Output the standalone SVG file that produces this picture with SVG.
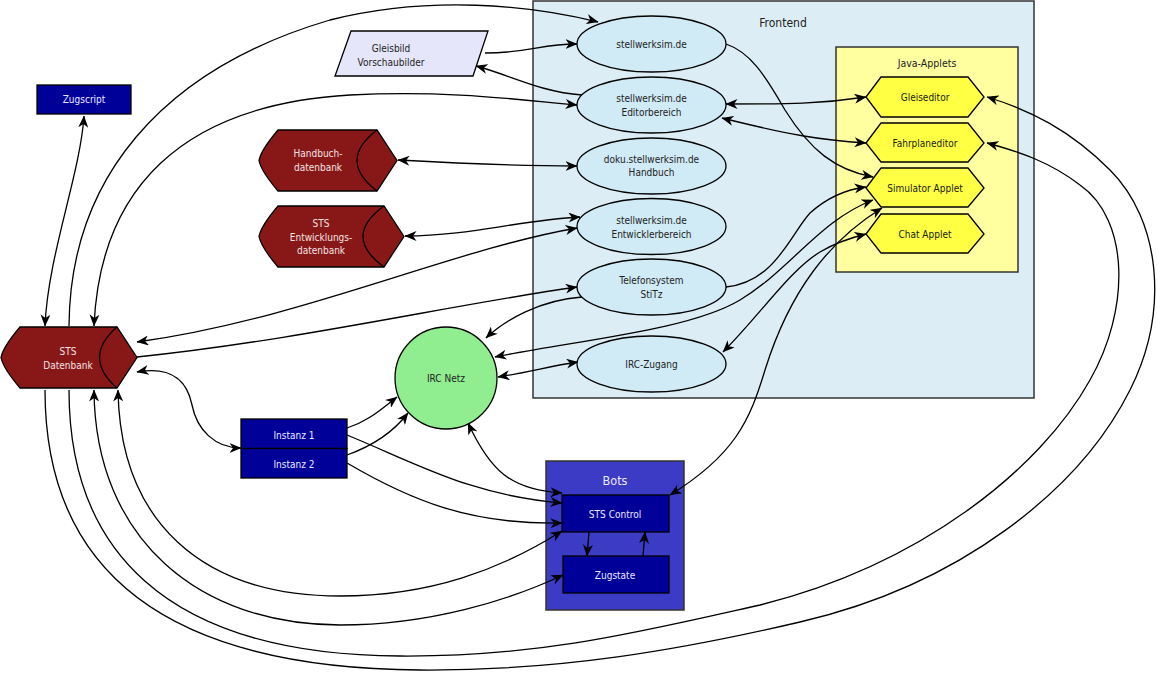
<svg xmlns="http://www.w3.org/2000/svg" width="1157" height="673" viewBox="0 0 1157 673">
<defs>
<marker id="ah" markerUnits="userSpaceOnUse" viewBox="0 0 12 10" refX="11.5" refY="5" markerWidth="12" markerHeight="10" orient="auto-start-reverse">
<path d="M0,0 L12,5 L0,10 L3.5,5 Z" fill="#000"/>
</marker>
</defs>
<style>
text{font-family:"DejaVu Sans Condensed","DejaVu Sans",sans-serif;font-size:10px;text-anchor:middle;fill:#222}
.lt{fill:#ece8ff}
.lr{fill:#f3e2e2}
.cl{stroke:#333;stroke-width:1.5}
.el{fill:#d0eaf6;stroke:#000;stroke-width:1.3}
.hx{fill:#ffff44;stroke:#000;stroke-width:1.3}
.db{fill:#881818;stroke:#000;stroke-width:1.3}
.bx{fill:#000099;stroke:#000;stroke-width:1.3}
#edges path{fill:none;stroke:#000;stroke-width:1.3}
.e{marker-end:url(#ah)}
.b{marker-start:url(#ah);marker-end:url(#ah)}
</style>

<g id="frontend">
<rect class="cl" x="533" y="1" width="501" height="397" fill="#dcedf5"/>
<text x="783" y="27" style="font-size:12px">Frontend</text>
</g>
<g id="java-applets">
<rect class="cl" x="836" y="47" width="182" height="225" fill="#ffffa0"/>
<text x="927" y="66.5" style="font-size:10.5px">Java-Applets</text>
</g>
<g id="bots">
<rect class="cl" x="546" y="461" width="138" height="149" fill="#3b3bc6"/>
<text class="lt" x="615" y="484.5" style="font-size:12.5px">Bots</text>
</g>

<g id="edges">
<path class="b" d="M84,116 C80,175 48,255 45,326"/>
<path class="e" d="M69,326 C70,180 160,70 330,20 C430,-5 530,5 598,22"/>
<path class="b" d="M94,326 C100,190 180,105 350,95 C450,90 520,100 577,105"/>
<path class="e" d="M485,53 C530,53 540,44 577,44"/>
<path class="e" d="M582,95 C540,92 510,75 476,66"/>
<path class="b" d="M398,160 C470,164 520,166 577,166"/>
<path class="b" d="M405,236 C470,236 520,220 580,217"/>
<path class="b" d="M137,342 C300,320 450,250 577,228"/>
<path class="e" d="M137,357 C300,340 450,305 577,287"/>
<path class="b" d="M137,372 C175,365 188,385 192,405 C197,430 215,448 241,448"/>
<path class="e" d="M726,44 C750,52 765,75 785,110 C810,150 835,170 873,177"/>
<path class="b" d="M726,104 C790,104 820,104 866,97"/>
<path class="b" d="M722,118 C790,135 820,140 866,143"/>
<path class="e" d="M726,287 C775,282 790,235 810,213 C830,195 850,189 866,187"/>
<path class="e" d="M582,297 C540,300 505,320 486,338"/>
<path class="b" d="M495,357 C580,340 690,330 740,300 C790,270 820,220 873,200"/>
<path class="b" d="M498,377 C530,372 550,366 578,362"/>
<path class="b" d="M723,352 C760,315 790,270 820,252 C835,243 850,238 866,234"/>
<path class="b" d="M670,495 C735,455 750,420 765,370 C790,290 830,240 882,208"/>
<path class="e" d="M347,428 C370,420 380,410 397,397"/>
<path class="e" d="M347,455 C375,445 395,430 408,413"/>
<path class="e" d="M347,435 C420,465 470,495 562,503"/>
<path class="e" d="M347,463 C410,500 470,525 562,523"/>
<path class="b" d="M468,423 C490,470 510,490 562,493"/>
<path class="e" d="M589,532 L587,556"/>
<path class="e" d="M643,556 L645,532"/>
<path class="b" d="M118,390 C120,520 200,596 340,596 C430,596 500,570 562,531"/>
<path class="b" d="M94,390 C95,540 200,625 340,625 C430,625 510,600 563,575"/>
<path class="e" d="M69,390 C69,545 160,655 400,656 C540,657 640,632 760,605 C920,565 1040,470 1090,380 C1130,310 1130,220 1080,185 C1050,162 1020,152 987,143"/>
<path class="e" d="M45,390 C45,560 150,668 420,670 C560,671 680,650 800,622 C960,585 1080,490 1130,390 C1170,310 1160,220 1110,170 C1070,130 1030,110 987,97"/>
</g>

<g id="zugscript">
<rect class="bx" x="37" y="85" width="94" height="29"/>
<text class="lt" x="84" y="102.5">Zugscript</text>
</g>
<g id="gleisbild">
<path d="M351,31 L488,31 L473,76 L335,76 Z" fill="#e6e6fa" stroke="#000" stroke-width="1.3"/>
<text x="391" y="51.5">Gleisbild</text>
<text x="391" y="65.5">Vorschaubilder</text>
</g>
<g id="handbuch-db">
<path class="db" d="M278,130 L377,130 L397,160.5 L377,191 L278,191 Q261,171 259,160.5 Q261,150 278,130 Z"/>
<path d="M377,130 Q337,160.5 377,191" fill="none" stroke="#000" stroke-width="1.3"/>
<text class="lr" x="318" y="157">Handbuch-</text>
<text class="lr" x="318" y="170.5">datenbank</text>
</g>
<g id="entw-db">
<path class="db" d="M278,206 L384,206 L404,236.5 L384,267 L278,267 Q261,247 259,236.5 Q261,226 278,206 Z"/>
<path d="M384,206 Q342,236.5 384,267" fill="none" stroke="#000" stroke-width="1.3"/>
<text class="lr" x="321" y="227">STS</text>
<text class="lr" x="321" y="240.5">Entwicklungs-</text>
<text class="lr" x="321" y="254">datenbank</text>
</g>
<g id="sts-db">
<path class="db" d="M20,327 L117,327 L137,357.5 L117,388 L20,388 Q3,368 1,357.5 Q3,347 20,327 Z"/>
<path d="M117,327 Q82,357.5 117,388" fill="none" stroke="#000" stroke-width="1.3"/>
<text class="lr" x="68" y="355">STS</text>
<text class="lr" x="68" y="368.5">Datenbank</text>
</g>

<g id="stellwerksim">
<ellipse class="el" cx="651.5" cy="44" rx="74.5" ry="28"/>
<text x="651.5" y="47.5">stellwerksim.de</text>
</g>
<g id="editorbereich">
<ellipse class="el" cx="651.5" cy="105" rx="74.5" ry="28"/>
<text x="651.5" y="101.5">stellwerksim.de</text>
<text x="651.5" y="115.5">Editorbereich</text>
</g>
<g id="handbuch">
<ellipse class="el" cx="651.5" cy="166" rx="74.5" ry="28"/>
<text x="651.5" y="162.5">doku.stellwerksim.de</text>
<text x="651.5" y="176">Handbuch</text>
</g>
<g id="entwicklerbereich">
<ellipse class="el" cx="651.5" cy="226.5" rx="74.5" ry="28"/>
<text x="651.5" y="223.5">stellwerksim.de</text>
<text x="651.5" y="237.5">Entwicklerbereich</text>
</g>
<g id="telefonsystem">
<ellipse class="el" cx="651.5" cy="287" rx="74.5" ry="28"/>
<text x="651.5" y="283.5">Telefonsystem</text>
<text x="651.5" y="297.5">StiTz</text>
</g>
<g id="irc-zugang">
<ellipse class="el" cx="651.5" cy="364" rx="74.5" ry="28"/>
<text x="651.5" y="367.5">IRC-Zugang</text>
</g>

<g id="gleiseditor">
<path class="hx" d="M866,97 L881,77 L968,77 L984,97 L968,117 L881,117 Z"/>
<text x="925" y="100.5">Gleiseditor</text>
</g>
<g id="fahrplaneditor">
<path class="hx" d="M866,143 L881,123 L968,123 L984,143 L968,162 L881,162 Z"/>
<text x="925" y="146.5">Fahrplaneditor</text>
</g>
<g id="simulator">
<path class="hx" d="M866,188 L881,168 L968,168 L984,188 L968,207 L881,207 Z"/>
<text x="925" y="191.5">Simulator Applet</text>
</g>
<g id="chat">
<path class="hx" d="M866,234 L881,214 L968,214 L984,234 L968,253 L881,253 Z"/>
<text x="925" y="237.5">Chat Applet</text>
</g>

<g id="irc-netz">
<circle cx="446" cy="378" r="51" fill="#90ee90" stroke="#000" stroke-width="1.3"/>
<text x="446" y="381.5">IRC Netz</text>
</g>
<g id="instanz1">
<rect class="bx" x="241" y="419" width="106" height="29.5"/>
<text class="lt" x="294" y="438.5">Instanz 1</text>
</g>
<g id="instanz2">
<rect class="bx" x="241" y="448.5" width="106" height="29.5"/>
<text class="lt" x="294" y="467.5">Instanz 2</text>
</g>
<g id="sts-control">
<rect class="bx" x="562" y="495" width="107" height="37"/>
<text class="lt" x="615" y="517.5">STS Control</text>
</g>
<g id="zugstate">
<rect class="bx" x="563" y="556" width="106" height="37"/>
<text class="lt" x="615" y="578.5">Zugstate</text>
</g>
</svg>
